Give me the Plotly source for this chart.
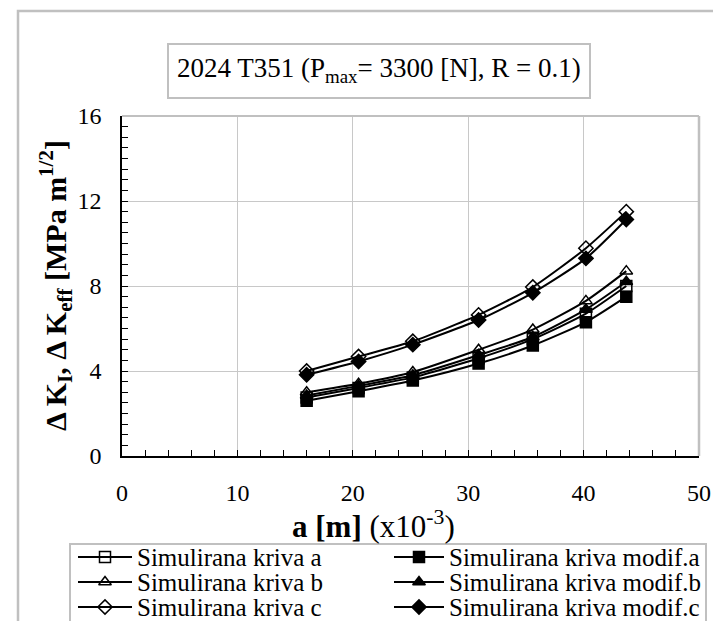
import plotly.graph_objects as go

# crack length a (x10^-3 m)
a_vals = [16.0, 20.5, 25.2, 30.9, 35.6, 40.2, 43.7]

# Delta K values [MPa m^1/2]
kriva_a = [2.75, 3.20, 3.70, 4.60, 5.50, 6.70, 8.00]
kriva_b = [3.00, 3.40, 3.95, 5.00, 5.95, 7.30, 8.70]
kriva_c = [4.00, 4.68, 5.40, 6.64, 7.95, 9.78, 11.50]
modif_a = [2.60, 3.05, 3.55, 4.35, 5.20, 6.30, 7.50]
modif_b = [2.85, 3.30, 3.80, 4.75, 5.60, 6.90, 8.20]
modif_c = [3.82, 4.45, 5.24, 6.40, 7.68, 9.30, 11.13]

names = ["Simulirana kriva a", "Simulirana kriva modif.a",
         "Simulirana kriva b", "Simulirana kriva modif.b",
         "Simulirana kriva c", "Simulirana kriva modif.c"]
series = [kriva_a, modif_a, kriva_b, modif_b, kriva_c, modif_c]
symbols = ["square-open", "square", "triangle-up-open", "triangle-up",
           "diamond-open", "diamond"]

FONT = "Liberation Serif, Times New Roman, serif"

W, H = 721, 621
L, R, T, B = 114, 691, 108, 448   # plot area in pixels


def fx(x):
    return x / W


def fy(y):
    return 1 - y / H


fig = go.Figure()
for nm, ys, sym in zip(names, series, symbols):
    fig.add_trace(go.Scatter(
        x=a_vals, y=ys, name=nm, mode="lines+markers", showlegend=False,
        line=dict(color="black", width=2, shape="spline", smoothing=0.6),
        marker=dict(symbol=sym, size=11, color="black",
                    line=dict(color="black", width=1.5)),
    ))

# hand-placed legend (pixel overlay axes x2/y2)
leg_line_x = [(70, 124), (386, 436)]
leg_text_x = [127, 439]
leg_row_y = [549, 574, 599]
annotations = []
for i, (nm, sym) in enumerate(zip(names, symbols)):
    col, row = i % 2, i // 2
    x0, x1 = leg_line_x[col]
    yy = leg_row_y[row]
    fig.add_trace(go.Scatter(
        x=[x0, x1], y=[yy, yy], xaxis="x2", yaxis="y2", mode="lines",
        line=dict(color="black", width=2), showlegend=False, hoverinfo="skip"))
    fig.add_trace(go.Scatter(
        x=[(x0 + x1) / 2], y=[yy], xaxis="x2", yaxis="y2", mode="markers",
        marker=dict(symbol=sym, size=11, color="black",
                    line=dict(color="black", width=1.5)),
        showlegend=False, hoverinfo="skip"))
    annotations.append(dict(
        text=nm, xref="paper", yref="paper", x=fx(leg_text_x[col]), y=fy(yy),
        xanchor="left", yanchor="middle", showarrow=False,
        font=dict(family=FONT, size=25, color="black")))

annotations += [
    dict(text="2024 T351 (P<sub>max</sub>= 3300 [N], R = 0.1)",
         xref="paper", yref="paper", x=fx(371), y=fy(62),
         xanchor="center", yanchor="middle", showarrow=False,
         font=dict(family=FONT, size=27, color="black")),
    dict(text="<b>a [m]</b> (x10<sup>-3</sup>)",
         xref="paper", yref="paper", x=fx(365), y=fy(516),
         xanchor="center", yanchor="middle", showarrow=False,
         font=dict(family=FONT, size=31, color="black")),
    dict(text="<b>Δ K<sub>I</sub>, Δ K<sub>eff</sub> [MPa m<sup>1/2</sup>]</b>",
         xref="paper", yref="paper", x=fx(47), y=fy(278), textangle=-90,
         xanchor="center", yanchor="middle", showarrow=False,
         font=dict(family=FONT, size=30, color="black")),
]

fig.update_layout(
    width=W, height=H,
    margin=dict(l=0, r=0, t=0, b=0, pad=0, autoexpand=False),
    paper_bgcolor="white", plot_bgcolor="rgba(0,0,0,0)",
    font=dict(family=FONT, color="black", size=24),
    showlegend=False,
    xaxis=dict(
        domain=[fx(L), fx(R)], anchor="y",
        range=[0, 50], dtick=10, tick0=0,
        showgrid=True, gridcolor="#c8c8c8", gridwidth=1,
        showline=True, linecolor="black", linewidth=1.5,
        ticks="inside", ticklen=6, tickcolor="black",
        minor=dict(dtick=2, ticks="inside", ticklen=6, tickcolor="black", showgrid=False),
        tickfont=dict(family=FONT, size=24),
        ticklabelstandoff=14,
        zeroline=False,
    ),
    yaxis=dict(
        domain=[fy(B), fy(T)], anchor="x",
        range=[0, 16], dtick=4, tick0=0,
        showgrid=True, gridcolor="#c8c8c8", gridwidth=1,
        showline=True, linecolor="black", linewidth=1.5,
        ticks="inside", ticklen=6, tickcolor="black",
        minor=dict(dtick=0.5, ticks="inside", ticklen=6, tickcolor="black", showgrid=False),
        tickfont=dict(family=FONT, size=24),
        ticklabelstandoff=14,
        zeroline=False,
    ),
    xaxis2=dict(domain=[0, 1], range=[0, W], anchor="y2", visible=False, fixedrange=True),
    yaxis2=dict(domain=[0, 1], range=[H, 0], anchor="x2", visible=False, fixedrange=True),
    shapes=[
        # outer chart border
        dict(type="rect", xref="paper", yref="paper",
             x0=fx(10), x1=fx(717), y0=fy(660), y1=fy(3),
             line=dict(color="#c0c0c0", width=2.5), layer="below"),
        # plot area border (top / right gray)
        dict(type="line", xref="paper", yref="paper", x0=fx(L), x1=fx(R), y0=fy(T), y1=fy(T),
             line=dict(color="#c0c0c0", width=2)),
        dict(type="line", xref="paper", yref="paper", x0=fx(R), x1=fx(R), y0=fy(B), y1=fy(T),
             line=dict(color="#c0c0c0", width=2.5)),
        # title box
        dict(type="rect", xref="paper", yref="paper",
             x0=fx(160), x1=fx(582), y0=fy(90), y1=fy(36),
             line=dict(color="#c0c0c0", width=2), fillcolor="white", layer="below"),
        # legend box
        dict(type="rect", xref="paper", yref="paper",
             x0=fx(62), x1=fx(698), y0=fy(616), y1=fy(536),
             line=dict(color="#c0c0c0", width=2), fillcolor="white", layer="below"),
    ],
    annotations=annotations,
)

fig.write_html("out.html")
